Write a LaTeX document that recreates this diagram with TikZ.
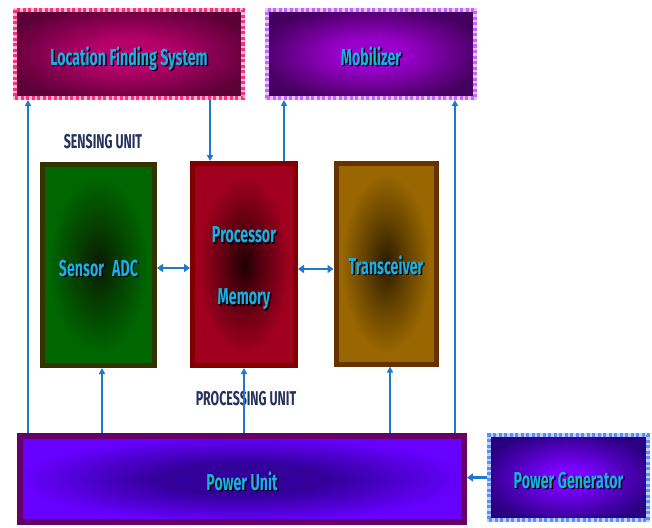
\documentclass[tikz,border=0pt]{standalone}
\usepackage{fontspec}
\usetikzlibrary{arrows.meta}
\newfontfamily\boxfont[FakeStretch=0.62]{Fira Sans}

% palette
\definecolor{lfsEdge}{HTML}{5E0038}
\definecolor{lfsMid}{HTML}{B8006B}
\definecolor{lfsLine}{HTML}{FF2E80}
\definecolor{lfsLight}{HTML}{FFB8D4}
\definecolor{mobEdge}{HTML}{44005E}
\definecolor{mobMid}{HTML}{9A00CC}
\definecolor{mobLine}{HTML}{C266FF}
\definecolor{mobLight}{HTML}{EAC2FF}
\definecolor{genEdge}{HTML}{2A0080}
\definecolor{genMid}{HTML}{7A00FF}
\definecolor{genLine}{HTML}{5C8AFF}
\definecolor{genLight}{HTML}{BFD2FF}
\definecolor{senEdge}{HTML}{006600}
\definecolor{senMid}{HTML}{0A1A00}
\definecolor{senLine}{HTML}{333300}
\definecolor{proEdge}{HTML}{A0001E}
\definecolor{proMid}{HTML}{1E0004}
\definecolor{proLine}{HTML}{800000}
\definecolor{traEdge}{HTML}{996600}
\definecolor{traMid}{HTML}{281A00}
\definecolor{traLine}{HTML}{663300}
\definecolor{pwrEdge}{HTML}{6600FF}
\definecolor{pwrMid}{HTML}{330099}
\definecolor{pwrLine}{HTML}{660066}
\definecolor{wire}{HTML}{1F78D0}
\definecolor{caption}{HTML}{1AB0E6}
\definecolor{unitc}{HTML}{26325E}

% radial fills: bright centre (dashed boxes) or dark centre (solid boxes)
\pgfdeclareradialshading{lfsShade}{\pgfpoint{0bp}{0bp}}{color(0bp)=(lfsMid); color(8bp)=(lfsMid); color(28bp)=(lfsEdge); color(50bp)=(lfsEdge)}
\pgfdeclareradialshading{mobShade}{\pgfpoint{0bp}{0bp}}{color(0bp)=(mobMid); color(8bp)=(mobMid); color(28bp)=(mobEdge); color(50bp)=(mobEdge)}
\pgfdeclareradialshading{genShade}{\pgfpoint{0bp}{0bp}}{color(0bp)=(genMid); color(6bp)=(genMid); color(28bp)=(genEdge); color(50bp)=(genEdge)}
\pgfdeclareradialshading{senShade}{\pgfpoint{0bp}{0bp}}{color(0bp)=(senMid); color(9bp)=(senMid!55!senEdge); color(22bp)=(senEdge); color(50bp)=(senEdge)}
\pgfdeclareradialshading{proShade}{\pgfpoint{0bp}{0bp}}{color(0bp)=(proMid); color(9bp)=(proMid!55!proEdge); color(22bp)=(proEdge); color(50bp)=(proEdge)}
\pgfdeclareradialshading{traShade}{\pgfpoint{0bp}{0bp}}{color(0bp)=(traMid); color(9bp)=(traMid!55!traEdge); color(22bp)=(traEdge); color(50bp)=(traEdge)}
\pgfdeclareradialshading{pwrShade}{\pgfpoint{0bp}{0bp}}{color(0bp)=(pwrMid); color(9bp)=(pwrMid); color(25bp)=(pwrEdge); color(50bp)=(pwrEdge)}

% caption text with a dark drop shadow
\newcommand{\shtxt}[1]{\makebox[0pt][l]{\kern1.4pt\raisebox{-1.4pt}{\textcolor{black}{#1}}}#1}

\tikzset{
  block/.style={inner sep=0pt, text=caption, font=\boxfont\bfseries\fontsize{23}{26}\selectfont, align=center},
  oneline/.style={text height=22pt, text depth=0pt},
  dashbox/.style 2 args={block, oneline, draw=#2, line width=4pt,
     postaction={draw=#1, line width=4pt, dash pattern=on 3pt off 2.5pt}},
  solidbox/.style={block, draw=#1, line width=5pt},
  unit/.style={text=unitc, font=\boxfont\bfseries\fontsize{20}{22}\selectfont, inner sep=0pt},
  wireln/.style={draw=wire, line width=1.5pt, -{Triangle[length=6pt,width=6pt]}},
  busln/.style={draw=wire, line width=2.6pt, {Triangle[length=6pt,width=8pt]}-{Triangle[length=6pt,width=8pt]}},
  feedln/.style={draw=wire, line width=2.6pt, -{Triangle[length=6pt,width=8pt]}},
}

\begin{document}
\begin{tikzpicture}[x=1pt, y=-1pt]
\useasboundingbox (0,0) rectangle (652,527);
\fill[white] (0,0) rectangle (652,527);

% top peripherals
\node[dashbox={lfsLine}{lfsLight}, shading=lfsShade, minimum width=228pt, minimum height=88pt]
  (lfs) at (129,54) {\shtxt{Location Finding System}};
\node[dashbox={mobLine}{mobLight}, shading=mobShade, minimum width=208pt, minimum height=88pt]
  (mob) at (371,54) {\shtxt{Mobilizer}};

% core units
\node[solidbox=senLine, oneline, shading=senShade, minimum width=112pt, minimum height=201pt]
  (sen) at (98.5,265) {\shtxt{Sensor\hspace{8pt}ADC}};
\node[solidbox=proLine, shading=proShade, minimum width=103pt, minimum height=202pt]
  (pro) at (244,264.5) {\rule{0pt}{25pt}\shtxt{Processor}\\[36pt]\shtxt{Memory}};
\node[solidbox=traLine, oneline, shading=traShade, minimum width=100pt, minimum height=201pt]
  (tra) at (386,263.5) {\shtxt{Transceiver}};

% power
\node[solidbox=pwrLine, oneline, line width=6pt, shading=pwrShade, minimum width=444pt, minimum height=86pt]
  (pwr) at (242,479) {\shtxt{Power Unit}};
\node[dashbox={genLine}{genLight}, shading=genShade, minimum width=159pt, minimum height=85pt]
  (gen) at (568.5,477.5) {\shtxt{Power Generator}};

% unit captions
\node[unit] (senscap) at (103,142) {SENSING UNIT};
\node[unit] (proccap) at (246,399) {PROCESSING UNIT};

% wire columns and rows
\coordinate (xa) at (28,0);
\coordinate (xb) at (102,0);
\coordinate (xc) at (210,0);
\coordinate (xd) at (244,0);
\coordinate (xe) at (284,0);
\coordinate (xf) at (390,0);
\coordinate (xg) at (455,0);
\coordinate (ya) at (0,268);
\coordinate (yb) at (0,269);

% signal connectors
\draw[wireln] (lfs.south -| xc) -- (pro.north -| xc);
\draw[wireln] (pro.north -| xe) -- (mob.south -| xe);
\draw[busln] (sen.east |- ya) -- (pro.west |- ya);
\draw[busln] (pro.east |- yb) -- (tra.west |- yb);

% power distribution
\draw[wireln] (pwr.north -| xa) -- (lfs.south -| xa);
\draw[wireln] (pwr.north -| xg) -- (mob.south -| xg);
\draw[wireln] (pwr.north -| xb) -- (sen.south -| xb);
\draw[wireln] (pwr.north -| xd) -- (pro.south -| xd);
\draw[wireln] (pwr.north -| xf) -- (tra.south -| xf);
\draw[feedln] (gen.west) -- (pwr.east |- gen.west);
\end{tikzpicture}
\end{document}
